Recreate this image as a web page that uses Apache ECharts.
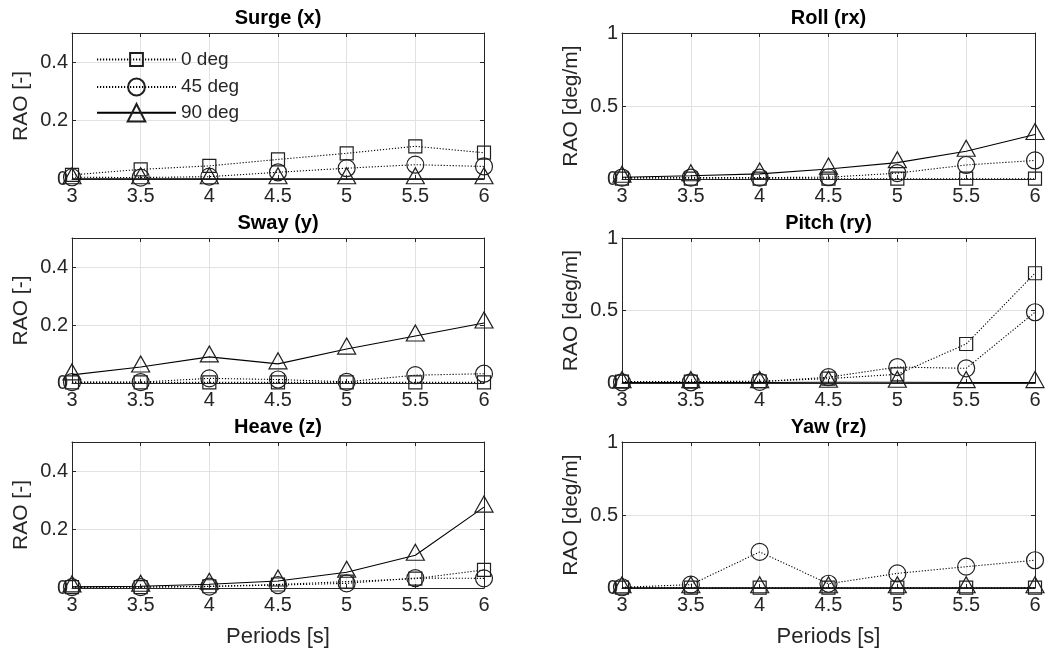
<!DOCTYPE html>
<html><head><meta charset="utf-8">
<script src="https://cdn.jsdelivr.net/npm/echarts@6/dist/echarts.min.js"></script>
<style>html,body{margin:0;padding:0;background:#fff}#c{width:1048px;height:652px}</style>
</head><body><div id="c"></div>
<script>
// ---- data ----
const periods = [3, 3.5, 4, 4.5, 5, 5.5, 6];
const seriesNames = ['0 deg', '45 deg', '90 deg'];
const panelTitles = ['Surge (x)', 'Roll (rx)', 'Sway (y)', 'Pitch (ry)', 'Heave (z)', 'Yaw (rz)'];
const yNames = ['RAO [-]', 'RAO [deg/m]', 'RAO [-]', 'RAO [deg/m]', 'RAO [-]', 'RAO [deg/m]'];
const xName = 'Periods [s]';

const surge0  = [0.014, 0.033, 0.045, 0.067, 0.088, 0.112, 0.090];
const surge45 = [0.006, 0.005, 0.008, 0.023, 0.037, 0.049, 0.043];
const surge90 = [0.001, 0.001, 0.001, 0.001, 0.001, 0.001, 0.001];

const roll0  = [0.002, 0.002, 0.002, 0.002, 0.002, 0.002, 0.002];
const roll45 = [0.010, 0.010, 0.010, 0.012, 0.040, 0.096, 0.127];
const roll90 = [0.012, 0.022, 0.035, 0.068, 0.112, 0.190, 0.305];

const sway0  = [0.002, 0.002, 0.002, 0.002, 0.002, 0.002, 0.002];
const sway45 = [0.003, 0.003, 0.016, 0.012, 0.004, 0.027, 0.032];
const sway90 = [0.028, 0.055, 0.090, 0.066, 0.117, 0.162, 0.207];

const pitch0  = [0.010, 0.010, 0.012, 0.030, 0.060, 0.269, 0.757];
const pitch45 = [0.005, 0.005, 0.008, 0.040, 0.110, 0.101, 0.488];
const pitch90 = [0.003, 0.003, 0.003, 0.005, 0.005, 0.003, 0.003];

const heave0  = [0.003, 0.003, 0.006, 0.012, 0.022, 0.032, 0.062];
const heave45 = [0.003, 0.003, 0.005, 0.010, 0.016, 0.034, 0.033];
const heave90 = [0.004, 0.006, 0.013, 0.024, 0.054, 0.112, 0.277];

const yaw0  = [0.002, 0.002, 0.002, 0.002, 0.002, 0.002, 0.002];
const yaw45 = [0.005, 0.023, 0.247, 0.029, 0.100, 0.146, 0.190];
const yaw90 = [0.002, 0.002, 0.002, 0.002, 0.002, 0.002, 0.002];

const panelData = [
  [surge0, surge45, surge90],
  [roll0, roll45, roll90],
  [sway0, sway45, sway90],
  [pitch0, pitch45, pitch90],
  [heave0, heave45, heave90],
  [yaw0, yaw45, yaw90]
];
const yMaxes = [0.5, 1, 0.5, 1, 0.5, 1];
const ySteps = [0.2, 0.5, 0.2, 0.5, 0.2, 0.5];

// ---- layout / style ----
const FONT = 'Liberation Sans, Arial, Helvetica, sans-serif';
const AX = '#262626';
const colLeft = [72, 622];
const colWidth = [412, 413];
const rowTop = [33, 238, 442];
const rowHeight = [146, 145, 146];

const grids = [], xAxes = [], yAxes = [], series = [], graphics = [];
for (let i = 0; i < 6; i++) {
  const c = i % 2, r = Math.floor(i / 2);
  grids.push({left: colLeft[c], top: rowTop[r], width: colWidth[c], height: rowHeight[r], containLabel: false});
  const ymax = yMaxes[i];
  xAxes.push({
    type: 'value', gridIndex: i, min: 3, max: 6, interval: 0.5, position: 'bottom',
    axisLine: {show: true, onZero: false, lineStyle: {color: AX, width: 1}},
    axisTick: {show: true, inside: true, length: 4, lineStyle: {color: AX}},
    axisLabel: {show: true, margin: 7, color: AX, fontSize: 20, fontFamily: FONT},
    splitLine: {show: true, lineStyle: {color: '#e2e2e2', width: 1}},
    name: r === 2 ? xName : '', nameLocation: 'middle', nameGap: 38,
    nameTextStyle: {color: AX, fontSize: 22, fontFamily: FONT}
  });
  xAxes.push({
    type: 'value', gridIndex: i, min: 3, max: 6, interval: 0.5, position: 'top',
    axisLine: {show: true, onZero: false, lineStyle: {color: AX, width: 1}},
    axisTick: {show: true, inside: true, length: 4, lineStyle: {color: AX}},
    axisLabel: {show: false}, splitLine: {show: false}
  });
  yAxes.push({
    type: 'value', gridIndex: i, min: 0, max: ymax, interval: ySteps[i], position: 'left',
    axisLine: {show: true, onZero: false, lineStyle: {color: AX, width: 1}},
    axisTick: {show: true, inside: true, length: 4, lineStyle: {color: AX}},
    axisLabel: {show: true, margin: 4, color: AX, fontSize: 20, fontFamily: FONT,
      formatter: (v) => (ymax === 0.5 && Math.abs(v - 0.5) < 1e-9) ? '' : String(+v.toFixed(2))},
    splitLine: {show: true, lineStyle: {color: '#e2e2e2', width: 1}},
    name: yNames[i], nameLocation: 'middle', nameGap: 40, nameRotate: 90,
    nameTextStyle: {color: AX, fontSize: 21, fontFamily: FONT}
  });
  yAxes.push({
    type: 'value', gridIndex: i, min: 0, max: ymax, interval: ySteps[i], position: 'right',
    axisLine: {show: true, onZero: false, lineStyle: {color: AX, width: 1}},
    axisTick: {show: true, inside: true, length: 4, lineStyle: {color: AX}},
    axisLabel: {show: false}, splitLine: {show: false}
  });
  graphics.push({
    type: 'text', x: colLeft[c] + colWidth[c] / 2, y: rowTop[r] - 14.5, z: 10,
    style: {text: panelTitles[i], font: 'bold 20px ' + FONT, fill: '#000', align: 'center', verticalAlign: 'middle'}
  });
  const styles = [
    {symbol: 'rect', symbolSize: 13, symbolOffset: [0, 0], line: {type: [1.2, 1.8], width: 1.1}},
    {symbol: 'circle', symbolSize: 17, symbolOffset: [0, 0], line: {type: [1.2, 1.8], width: 1.1}},
    {symbol: 'triangle', symbolSize: [18, 16], symbolOffset: [0, -3], line: {type: 'solid', width: 1.1}}
  ];
  for (let s = 0; s < 3; s++) {
    const st = styles[s];
    series.push({
      type: 'line', name: seriesNames[s], xAxisIndex: 2 * i, yAxisIndex: 2 * i,
      data: periods.map((p, k) => [p, panelData[i][s][k]]),
      symbol: st.symbol, symbolSize: st.symbolSize, symbolOffset: st.symbolOffset, showSymbol: true,
      lineStyle: {color: '#000', width: st.line.width, type: st.line.type},
      itemStyle: {color: 'rgba(0,0,0,0)', borderColor: '#1f1f1f', borderWidth: 1.2},
      emphasis: {disabled: true}, animation: false, clip: false, z: 3 + s
    });
  }
}

const legendCommon = {left: 96, orient: 'vertical', padding: 0, itemWidth: 79,
  textStyle: {color: AX, fontSize: 19, fontFamily: FONT}, selectedMode: false, inactiveColor: AX};
const legends = [
  Object.assign({}, legendCommon, {data: ['0 deg'], top: 60 - 10, itemHeight: 16}),
  Object.assign({}, legendCommon, {data: ['45 deg'], top: 88 - 10.5, itemHeight: 21}),
  Object.assign({}, legendCommon, {data: ['90 deg'], top: 114 - 11, itemHeight: 22})
];

const chart = echarts.init(document.getElementById('c'), null, {renderer: 'canvas'});
chart.setOption({
  animation: false, backgroundColor: '#fff',
  grid: grids, xAxis: xAxes, yAxis: yAxes, series: series, legend: legends, graphic: graphics
});
</script></body></html>
